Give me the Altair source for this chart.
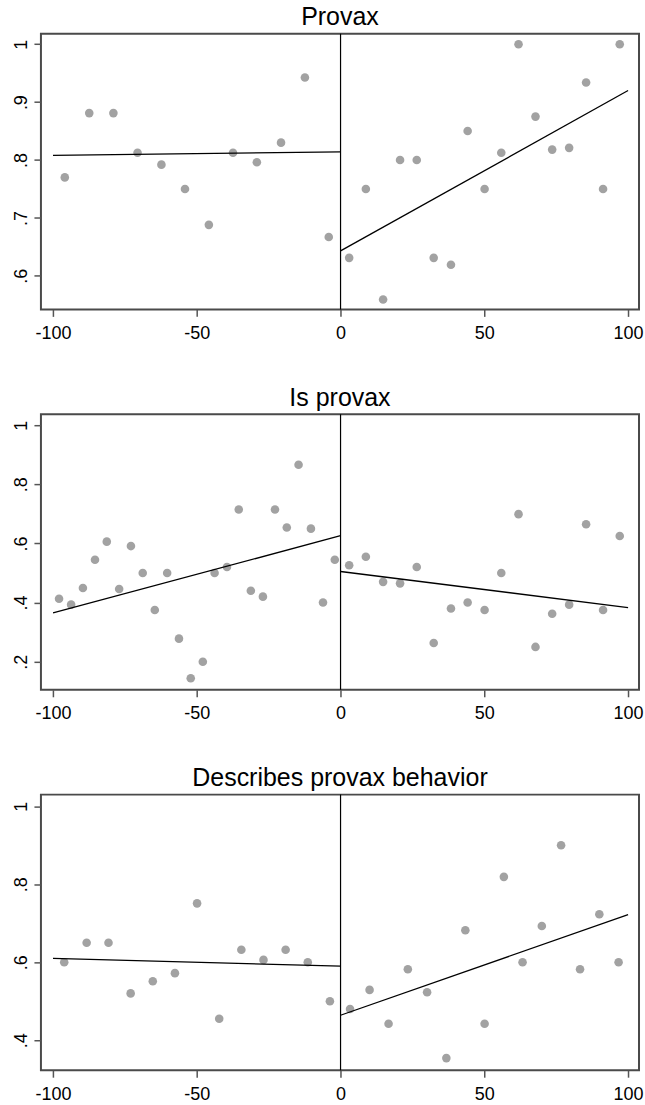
import altair as alt
import pandas as pd

FONT = "Liberation Sans"

# ---------- Panel 1: Provax ----------
p1_x = [-95.9, -87.4, -79.0, -70.6, -62.3, -54.1, -45.8, -37.4, -29.1, -20.7, -12.4, -4.1,
        3.0, 8.8, 14.8, 20.7, 26.5, 32.4, 38.4, 44.2, 50.1, 55.9, 61.9, 67.8, 73.6, 79.5, 85.4, 91.3, 97.1]
p1_y = [0.770, 0.881, 0.881, 0.8125, 0.792, 0.750, 0.688, 0.8125, 0.796, 0.830, 0.9425, 0.667,
        0.631, 0.750, 0.559, 0.800, 0.800, 0.631, 0.619, 0.850, 0.750, 0.8125, 1.000, 0.875, 0.818, 0.821, 0.934, 0.750, 1.000]
p1_fit_x = [-100, 0, 0, 100]
p1_fit_y = [0.808, 0.814, 0.643, 0.920]
p1_ydomain = [0.542, 1.018]
p1_yticks = [0.6, 0.7, 0.8, 0.9, 1.0]

# ---------- Panel 2: Is provax ----------
p2_x = [-97.9, -93.7, -89.6, -85.4, -81.3, -77.0, -72.9, -68.8, -64.6, -60.3, -56.2, -52.1,
        -47.9, -43.8, -39.5, -35.4, -31.2, -27.0, -22.8, -18.7, -14.6, -10.3, -6.1, -2.0,
        3.0, 8.8, 14.8, 20.7, 26.5, 32.4, 38.4, 44.2, 50.1, 55.9, 61.9, 67.8, 73.6, 79.5, 85.4, 91.3, 97.1]
p2_y = [0.413, 0.393, 0.449, 0.545, 0.606, 0.446, 0.591, 0.500, 0.375, 0.500, 0.278, 0.144,
        0.200, 0.500, 0.520, 0.715, 0.440, 0.420, 0.715, 0.654, 0.866, 0.650, 0.400, 0.545,
        0.526, 0.555, 0.470, 0.465, 0.520, 0.263, 0.380, 0.400, 0.375, 0.500, 0.699, 0.250, 0.362, 0.393, 0.665, 0.375, 0.625]
p2_fit_x = [-100, 0, 0, 100]
p2_fit_y = [0.365, 0.626, 0.505, 0.383]
p2_ydomain = [0.105, 1.037]
p2_yticks = [0.2, 0.4, 0.6, 0.8, 1.0]

# ---------- Panel 3: Describes provax behavior ----------
p3_x = [-96.1, -88.3, -80.7, -73.0, -65.3, -57.6, -49.9, -42.2, -34.5, -26.8, -19.1, -11.4, -3.7,
        3.3, 10.1, 16.7, 23.4, 30.1, 36.8, 43.4, 50.1, 56.8, 63.3, 70.0, 76.7, 83.3, 90.0, 96.7]
p3_y = [0.600, 0.650, 0.650, 0.520, 0.551, 0.572, 0.751, 0.455, 0.632, 0.606, 0.632, 0.600, 0.500,
        0.480, 0.529, 0.442, 0.582, 0.523, 0.354, 0.682, 0.442, 0.819, 0.600, 0.693, 0.900, 0.582, 0.723, 0.600]
p3_fit_x = [-100, 0, 0, 100]
p3_fit_y = [0.610, 0.590, 0.464, 0.722]
p3_ydomain = [0.323, 1.030]
p3_yticks = [0.4, 0.6, 0.8, 1.0]

fit_side = ["left", "left", "right", "right"]
x_ticks = [-100, -50, 0, 50, 100]
x_domain = [-104.2, 103.8]


def panel(title, px, py, fx, fy, ydomain, yticks):
    pts = pd.DataFrame({"x": px, "y": py})
    fit = pd.DataFrame({"x": fx, "y": fy, "side": fit_side})
    xs = alt.Scale(domain=x_domain, nice=False, zero=False)
    ys = alt.Scale(domain=ydomain, nice=False, zero=False)
    xaxis = alt.Axis(values=x_ticks, title=None, grid=False, domain=False,
                     tickSize=7, tickColor="#555555", tickWidth=1.5,
                     labelFontSize=18, labelFont=FONT, labelColor="black", labelPadding=8,
                     labelExpr="'' + datum.value")
    yaxis = alt.Axis(values=yticks, title=None, grid=False, domain=False,
                     tickSize=7, tickColor="#555555", tickWidth=1.5,
                     labelFontSize=18, labelFont=FONT, labelColor="black", labelPadding=7,
                     labelAngle=270, labelAlign="center", labelBaseline="alphabetic",
                     labelExpr="datum.value >= 1 ? '1' : '.' + round(datum.value * 10)")
    points = alt.Chart(pts).mark_circle(size=74, color="#a2a2a2", opacity=1).encode(
        x=alt.X("x:Q", scale=xs, axis=xaxis),
        y=alt.Y("y:Q", scale=ys, axis=yaxis),
    )
    lines = alt.Chart(fit).mark_line(color="black", strokeWidth=1.3).encode(
        x=alt.X("x:Q", scale=xs),
        y=alt.Y("y:Q", scale=ys),
        detail="side:N",
    )
    vline = alt.Chart(pd.DataFrame({"x": [0]})).mark_rule(color="black", strokeWidth=1.2).encode(
        x=alt.X("x:Q", scale=xs)
    )
    return alt.layer(points, lines, vline).properties(
        width=599, height=276,
        title=alt.TitleParams(title, fontSize=25, font=FONT, fontWeight="normal", color="black",
                              anchor="middle", offset=-22, baseline="bottom"),
    )


chart = alt.vconcat(
    panel("Provax", p1_x, p1_y, p1_fit_x, p1_fit_y, p1_ydomain, p1_yticks),
    panel("Is provax", p2_x, p2_y, p2_fit_x, p2_fit_y, p2_ydomain, p2_yticks),
    panel("Describes provax behavior", p3_x, p3_y, p3_fit_x, p3_fit_y, p3_ydomain, p3_yticks),
    spacing=41,
).properties(
    padding={"left": 11, "top": 3, "right": 0, "bottom": 0},
    background="white",
).configure_view(
    stroke="#4a4a4a", strokeWidth=2
)

chart.save("out.html", embed_options={"renderer": "svg", "actions": False})
